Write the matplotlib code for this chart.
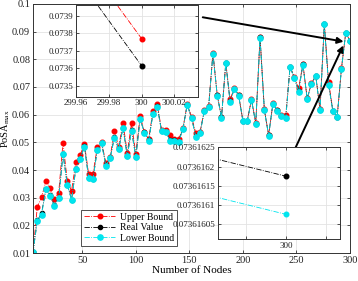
import matplotlib
matplotlib.use("Agg")
import matplotlib.pyplot as plt
from matplotlib.ticker import FuncFormatter

plt.rcParams['font.family'] = ['Liberation Serif', 'DejaVu Serif']
plt.rcParams['mathtext.fontset'] = 'custom'
plt.rcParams['mathtext.rm'] = 'Liberation Serif'
plt.rcParams['mathtext.it'] = 'Liberation Serif:italic'

# number of nodes
nodes = list(range(4, 301, 4))

upper = [0.0102, 0.0267, 0.0301, 0.0360, 0.0334, 0.0294, 0.0318, 0.0499, 0.0360, 0.0325,
         0.0429, 0.0454, 0.0494, 0.0384, 0.0386, 0.0482, 0.0502, 0.0426, 0.0446, 0.0541,
         0.0484, 0.0571, 0.0462, 0.0569, 0.0458, 0.0595, 0.0538, 0.0511, 0.0614, 0.0638,
         0.0545, 0.0545, 0.0526, 0.0511, 0.0511, 0.0551, 0.0638, 0.0593, 0.0533, 0.0538,
         0.0617, 0.0632, 0.0822, 0.0671, 0.0591, 0.0788, 0.0655, 0.0695, 0.0671, 0.0578,
         0.0578, 0.0655, 0.0569, 0.0880, 0.0619, 0.0526, 0.0641, 0.0617, 0.0599, 0.0599,
         0.0773, 0.0735, 0.0695, 0.0783, 0.0659, 0.0713, 0.0741, 0.0619, 0.0928, 0.0719,
         0.0614, 0.0593, 0.0767, 0.0896, 0.0867]

real = [0.0102, 0.0218, 0.0243, 0.0331, 0.0308, 0.0272, 0.0299, 0.0458, 0.0347, 0.0293,
        0.0405, 0.0440, 0.0485, 0.0371, 0.0367, 0.0473, 0.0497, 0.0417, 0.0443, 0.0518,
        0.0476, 0.0552, 0.0452, 0.0543, 0.0447, 0.0584, 0.0536, 0.0507, 0.0603, 0.0630,
        0.0541, 0.0539, 0.0507, 0.0507, 0.0503, 0.0549, 0.0636, 0.0588, 0.0522, 0.0535,
        0.0614, 0.0628, 0.0821, 0.0670, 0.0590, 0.0787, 0.0648, 0.0694, 0.0670, 0.0577,
        0.0577, 0.0654, 0.0568, 0.0879, 0.0618, 0.0525, 0.0640, 0.0616, 0.0596, 0.0588,
        0.0772, 0.0734, 0.0684, 0.0782, 0.0658, 0.0712, 0.0740, 0.0618, 0.0927, 0.0708,
        0.0613, 0.0592, 0.0766, 0.0895, 0.0866]

lower = [0.0102, 0.0217, 0.0237, 0.0330, 0.0307, 0.0271, 0.0298, 0.0457, 0.0346, 0.0292,
         0.0404, 0.0439, 0.0484, 0.0370, 0.0366, 0.0472, 0.0496, 0.0416, 0.0442, 0.0517,
         0.0475, 0.0551, 0.0451, 0.0542, 0.0446, 0.0583, 0.0535, 0.0506, 0.0602, 0.0629,
         0.0540, 0.0538, 0.0506, 0.0506, 0.0502, 0.0548, 0.0635, 0.0587, 0.0521, 0.0534,
         0.0613, 0.0627, 0.0820, 0.0669, 0.0589, 0.0786, 0.0647, 0.0693, 0.0669, 0.0576,
         0.0576, 0.0653, 0.0567, 0.0878, 0.0617, 0.0524, 0.0639, 0.0615, 0.0595, 0.0587,
         0.0771, 0.0733, 0.0683, 0.0781, 0.0657, 0.0711, 0.0739, 0.0617, 0.0926, 0.0707,
         0.0612, 0.0591, 0.0765, 0.0894, 0.0865]

# zoomed values around the last point
zoom_x = [299.9, 300.0]
zoom_upper = [0.075040, 0.073770]
zoom_real = [0.074894175, 0.073616175]
zoom_lower = [0.074894076, 0.073616076]

y_ticks = [0.01, 0.02, 0.03, 0.04, 0.05, 0.06, 0.07, 0.08, 0.09, 0.1]
x_ticks = [50, 100, 150, 200, 250, 300]
ins1_xticks = [299.96, 299.98, 300.0, 300.02]
ins1_yticks = [0.0735, 0.0736, 0.0737, 0.0738, 0.0739]
ins2_xticks = [299.999998, 300.0, 300.000002]
ins2_yticks = [0.07361605, 0.0736161, 0.07361615, 0.0736162, 0.07361625]

RED = '#ff0000'
BLACK = '#000000'
CYAN = '#00e5ee'
SPINE = '#333333'
SIZES = {RED: 3.3, BLACK: 3.0, CYAN: 3.8}


def style_axes(ax, fs):
    ax.grid(True, color='#e3e3e3', linewidth=0.6)
    ax.set_axisbelow(True)
    ax.tick_params(direction='in', length=2.5, width=0.6, labelsize=fs,
                   top=True, right=True, colors=SPINE, labelcolor='#222222', pad=2)
    for s in ax.spines.values():
        s.set_color(SPINE)
        s.set_linewidth(0.7)


fig = plt.figure(figsize=(3.58, 2.81), dpi=100)
ax = fig.add_axes([0.0922, 0.0996, 0.8855, 0.8862])

series = [(upper, RED, 'Upper Bound'), (real, BLACK, 'Real Value'), (lower, CYAN, 'Lower Bound')]
for vals, col, lab in series:
    ax.plot(nodes, vals, '-.', color=col, lw=0.6, marker='o', ms=SIZES[col],
            mfc=col, mec=col, label=lab)

ax.set_xlim(4, 300)
ax.set_ylim(0.01, 0.1)
ax.set_xticks(x_ticks)
ax.set_yticks(y_ticks)
ax.yaxis.set_major_formatter(FuncFormatter(lambda v, p: f'{v:g}'))
style_axes(ax, 7.5)
ax.set_xlabel('Number of Nodes', fontsize=8, labelpad=1)
ax.set_ylabel(r'PoSA$_{\mathrm{max}}$', fontsize=7.5, labelpad=0)

leg = ax.legend(loc='lower left', bbox_to_anchor=(0.152, 0.03), fontsize=7,
                fancybox=False, edgecolor='#333333', framealpha=1,
                handlelength=3.2, handletextpad=0.5, borderpad=0.3,
                labelspacing=0.15, borderaxespad=0)
leg.get_frame().set_linewidth(0.6)

# arrows towards the zoomed point
ax.annotate('', xy=(294.0, 0.0864), xytext=(162.5, 0.0952),
            arrowprops=dict(arrowstyle='-|>', color='k', lw=1.4, mutation_scale=9,
                            shrinkA=0, shrinkB=0), annotation_clip=False)
ax.annotate('', xy=(293.7, 0.0850), xytext=(248.8, 0.0478),
            arrowprops=dict(arrowstyle='-|>', color='k', lw=1.4, mutation_scale=9,
                            shrinkA=0, shrinkB=0), annotation_clip=False)

# inset 1: upper vs real
ins1 = fig.add_axes([0.2123, 0.6559, 0.3408, 0.3263])
ins1.plot(zoom_x, zoom_upper, '-.', color=RED, lw=0.6, marker='o', ms=3.3, mfc=RED, mec=RED)
ins1.plot(zoom_x, zoom_real, '-.', color=BLACK, lw=0.6, marker='o', ms=3.3, mfc=BLACK, mec=BLACK)
ins1.set_xlim(299.96, 300.0345)
ins1.set_ylim(0.07344, 0.07396)
ins1.set_xticks(ins1_xticks)
ins1.set_yticks(ins1_yticks)
ins1.xaxis.set_major_formatter(FuncFormatter(lambda v, p: f'{v:g}'))
ins1.yaxis.set_major_formatter(FuncFormatter(lambda v, p: f'{v:.4f}'))
style_axes(ins1, 6.5)

# inset 2: real vs lower
ins2 = fig.add_axes([0.608, 0.1495, 0.3416, 0.3263])
ins2.plot(zoom_x, zoom_real, '-.', color=BLACK, lw=0.6, marker='o', ms=3.3, mfc=BLACK, mec=BLACK)
ins2.plot(zoom_x, zoom_lower, '-.', color=CYAN, lw=0.6, marker='o', ms=3.3, mfc=CYAN, mec=CYAN)
ins2.set_xlim(300 - 3.415e-6, 300 + 2.7e-6)
ins2.set_ylim(0.073616012, 0.07361625)
ins2.set_xticks(ins2_xticks)
ins2.set_xticklabels(['', '300', ''])
ins2.set_yticks(ins2_yticks)
ins2.yaxis.set_major_formatter(FuncFormatter(lambda v, p: f'{v:.8g}'))
style_axes(ins2, 6.5)

fig.savefig('out.png', dpi=100)
